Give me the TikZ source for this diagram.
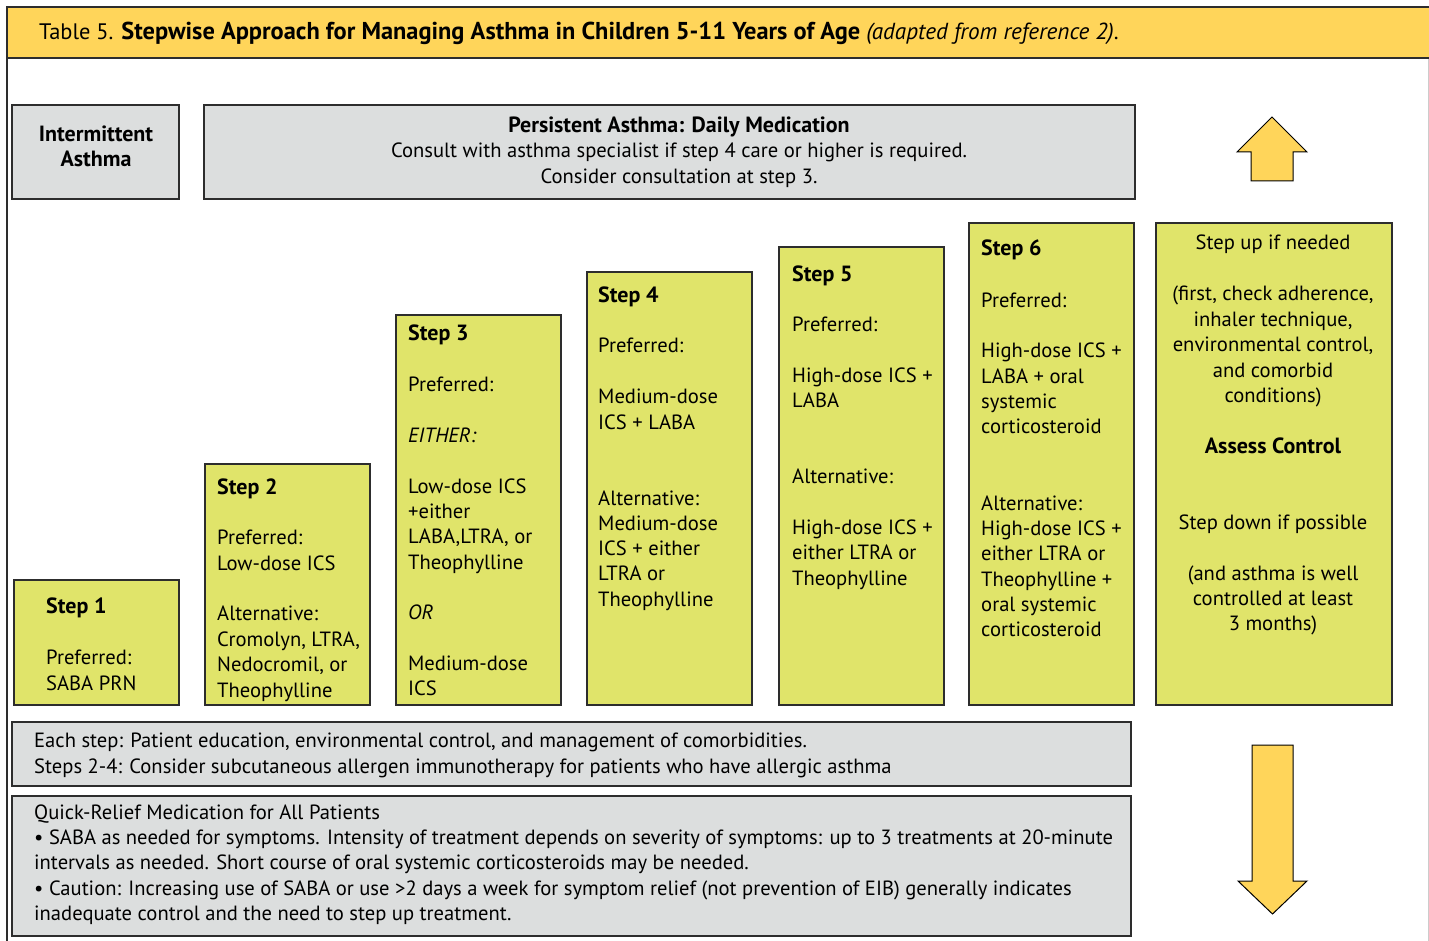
\documentclass[tikz,border=0pt]{standalone}
\usepackage{fontspec}
\setmainfont{PT Sans}
\definecolor{bar}{RGB}{255,213,90}
\definecolor{stepfill}{RGB}{224,228,106}
\definecolor{grayfill}{RGB}{220,222,222}
\definecolor{edge}{RGB}{45,45,45}
\newcommand\bt[1]{{\fontsize{22}{24}\selectfont\bfseries #1}}
\tikzset{
  box/.style={draw=edge, line width=1.3pt, anchor=north west, inner sep=0pt, outer sep=0pt},
  stepbox/.style={box, fill=stepfill},
  graybox/.style={box, fill=grayfill},
  txt/.style={anchor=base west, inner sep=0pt, font=\fontsize{20.6}{24}\selectfont},
  ctxt/.style={txt, anchor=base},
  bigarrow/.style={draw=black, line width=1pt, fill=bar, line join=miter},
}
\begin{document}
\begin{tikzpicture}[x=1pt,y=-1pt]
\useasboundingbox (0,0) rectangle (1429,941);
% frame and title bar
\draw[edge, line width=1.3pt] (7,58) -- (7,941);
\draw[black!20, line width=1pt] (1428,58) -- (1428,941);
\node[box, fill=bar, minimum width=1425pt, minimum height=51pt] (titlebar) at (7,7) {};
\node[txt, font=\fontsize{22.4}{25}\selectfont] (title) at (39,40) {Table 5. {\fontsize{24.4}{25}\selectfont\bfseries Stepwise Approach for Managing Asthma in Children 5-11 Years of Age} {\fontsize{23.2}{25}\selectfont\itshape (adapted from reference 2)}.};

% header boxes
\node[graybox, minimum width=167pt, minimum height=94pt] (inter) at (12,105) {};
\node[ctxt] (inter1) at (96,142) {\bt{Intermittent}};
\node[ctxt] (inter2) at (96,167) {\bt{Asthma}};
\node[graybox, minimum width=931pt, minimum height=94pt] (pers) at (204,105) {};
\node[ctxt] (pers1) at (679,133) {\bt{Persistent Asthma: Daily Medication}};
\node[ctxt] (pers2) at (679,158) {Consult with asthma specialist if step 4 care or higher is required.};
\node[ctxt] (pers3) at (679,184) {Consider consultation at step 3.};

% step boxes
\node[stepbox, minimum width=165pt, minimum height=125pt] (s1) at (14,580) {};
\node[stepbox, minimum width=165pt, minimum height=241pt] (s2) at (205,464) {};
\node[stepbox, minimum width=165pt, minimum height=390pt] (s3) at (396,315) {};
\node[stepbox, minimum width=165pt, minimum height=433pt] (s4) at (587,272) {};
\node[stepbox, minimum width=165pt, minimum height=458pt] (s5) at (779,247) {};
\node[stepbox, minimum width=165pt, minimum height=482pt] (s6) at (969,223) {};
\node[stepbox, minimum width=236pt, minimum height=482pt] (assess) at (1156,223) {};

\foreach \yy/\ytext [count=\i] in {613/{\bt{Step 1}}, 664/Preferred:, 690/SABA PRN}
  \node[txt] (s1-\i) at (46,\yy) {\ytext};
\foreach \yy/\ytext [count=\i] in {494/{\bt{Step 2}}, 544/Preferred:, 570/Low-dose ICS, 620/Alternative:, 646/{Cromolyn, LTRA,}, 671/{Nedocromil, or}, 697/Theophylline}
  \node[txt] (s2-\i) at (217,\yy) {\ytext};
\foreach \yy/\ytext [count=\i] in {340/{\bt{Step 3}}, 391/Preferred:, 442/{\textit{EITHER:}}, 493/Low-dose ICS, 518/+either, 543/{LABA,LTRA, or}, 569/Theophylline, 619/{\textit{OR}}, 670/Medium-dose, 695/ICS}
  \node[txt] (s3-\i) at (408,\yy) {\ytext};
\foreach \yy/\ytext [count=\i] in {302/{\bt{Step 4}}, 352/Preferred:, 403/Medium-dose, 429/ICS + LABA, 505/Alternative:, 530/Medium-dose, 555/ICS + either, 580/LTRA or, 606/Theophylline}
  \node[txt] (s4-\i) at (598,\yy) {\ytext};
\foreach \yy/\ytext [count=\i] in {281/{\bt{Step 5}}, 331/Preferred:, 382/High-dose ICS +, 407/LABA, 483/Alternative:, 534/High-dose ICS +, 559/either LTRA or, 585/Theophylline}
  \node[txt] (s5-\i) at (792,\yy) {\ytext};
\foreach \yy/\ytext [count=\i] in {256/{\bt{Step 6}}, 307/Preferred:, 357/High-dose ICS +, 383/LABA + oral, 408/systemic, 433/corticosteroid, 510/Alternative:, 535/High-dose ICS +, 560/either LTRA or, 586/Theophylline +, 611/oral systemic, 636/corticosteroid}
  \node[txt] (s6-\i) at (981,\yy) {\ytext};
\foreach \yy/\ytext [count=\i] in {250/Step up if needed, 301/{(first, check adherence,}, 326/{inhaler technique,}, 351/{environmental control,}, 377/and comorbid, 402/conditions), 453/{\bt{Assess Control}}, 529/Step down if possible, 580/(and asthma is well, 605/controlled at least, 630/3 months)}
  \node[ctxt] (as-\i) at (1273,\yy) {\ytext};

% bottom boxes
\node[graybox, minimum width=1119pt, minimum height=64pt] (each) at (12,722) {};
\node[txt] (each1) at (34,747) {Each step: Patient education, environmental control, and management of comorbidities.};
\node[txt] (each2) at (34,773) {Steps 2-4: Consider subcutaneous allergen immunotherapy for patients who have allergic asthma};
\node[graybox, minimum width=1119pt, minimum height=140pt] (quick) at (12,796) {};
\node[txt] (q1) at (34,819) {Quick-Relief Medication for All Patients};
\node[txt] (q2) at (34,844) {• SABA as needed for symptoms. Intensity of treatment depends on severity of symptoms: up to 3 treatments at 20-minute};
\node[txt] (q3) at (34,869) {intervals as needed. Short course of oral systemic corticosteroids may be needed.};
\node[txt] (q4) at (34,895) {• Caution: Increasing use of SABA or use >2 days a week for symptom relief (not prevention of EIB) generally indicates};
\node[txt] (q5) at (34,920) {inadequate control and the need to step up treatment.};

% arrows
\draw[bigarrow] (1272,117) -- (1307,152) -- (1293,152) -- (1293,181) -- (1251,181) -- (1251,152) -- (1237,152) -- cycle;
\draw[bigarrow] (1252,745) -- (1293,745) -- (1293,881) -- (1307,881) -- (1272.5,914) -- (1238,881) -- (1252,881) -- cycle;
\end{tikzpicture}
\end{document}
